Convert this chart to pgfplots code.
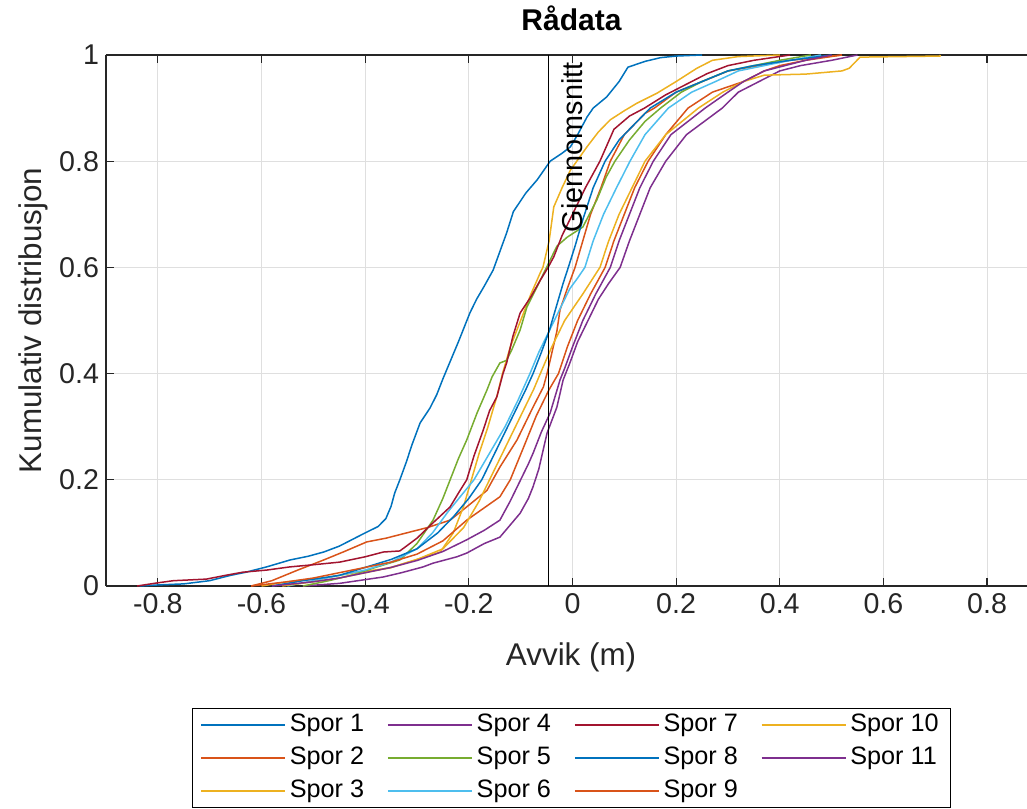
\documentclass[border=0pt]{standalone}
\usepackage{fontspec}
\setmainfont{Liberation Sans}
\usepackage{pgfplots}
\pgfplotsset{compat=1.18}
\definecolor{c1}{RGB}{0,114,189}
\definecolor{c2}{RGB}{217,83,25}
\definecolor{c3}{RGB}{237,177,32}
\definecolor{c4}{RGB}{126,47,142}
\definecolor{c5}{RGB}{119,172,48}
\definecolor{c6}{RGB}{77,190,238}
\definecolor{c7}{RGB}{162,20,47}
\definecolor{axc}{RGB}{38,38,38}
\definecolor{gridc}{RGB}{223,223,223}
\begin{document}
\begin{tikzpicture}
\path[use as bounding box] (-53pt,-111pt) rectangle (460.5pt,293pt);
\begin{axis}[
  at={(0,0)}, anchor=south west,
  scale only axis, width=460.5pt, height=265.5pt,
  xmin=-0.9, xmax=0.877, ymin=0, ymax=1,
  axis x line=box, axis y line=left,
  axis line style={-, color=axc, line width=0.6pt},
  tick align=inside, major tick length=4pt,
  tick style={color=axc, line width=0.6pt},
  xtick={-0.8,-0.6,-0.4,-0.2,0,0.2,0.4,0.6,0.8},
  ytick={0,0.2,0.4,0.6,0.8,1},
  grid=major, major grid style={color=gridc, line width=0.5pt},
  /pgf/number format/assume math mode=true,
  ticklabel style={font=\fontsize{14.3}{16}\selectfont, color=axc},
  xlabel={Avvik (m)},
  ylabel={Kumulativ distribusjon},
  title={Rådata},
  every axis x label/.style={at={(rel axis cs:0.505,-0.1337)}, anchor=center, font=\fontsize{15.7}{18}\selectfont, color=axc},
  every axis y label/.style={at={(rel axis cs:-0.0793,0.5)}, rotate=90, anchor=center, font=\fontsize{15.7}{18}\selectfont, color=axc},
  title style={at={(rel axis cs:0.5054,1.047)}, anchor=center, font=\fontsize{15}{18}\selectfont\bfseries},
  legend style={at={(rel axis cs:0.5054,-0.2298)}, anchor=north, draw=black, line width=0.5pt,
    font=\fontsize{12.6}{14}\selectfont, inner xsep=4pt, inner ysep=0pt,
    nodes={text height=9.5pt, text depth=2.8pt, inner ysep=2.1pt, inner xsep=2pt},
    /tikz/every even column/.append style={column sep=9.5pt}},
  legend cell align=left,
  legend columns=4,
  legend image code/.code={\draw[#1, line width=0.8pt] (0pt,0pt) -- (42pt,0pt);},
  every axis plot/.append style={line width=0.75pt, forget plot},
]
% Spor 1
\addplot[c1] coordinates {(-0.835,0) (-0.80,0.002) (-0.75,0.004) (-0.70,0.010) (-0.66,0.020) (-0.63,0.026) (-0.59,0.036) (-0.545,0.049) (-0.51,0.056) (-0.48,0.064) (-0.45,0.075) (-0.43,0.085) (-0.40,0.10) (-0.375,0.112) (-0.36,0.127) (-0.35,0.15) (-0.343,0.175) (-0.333,0.20) (-0.32,0.235) (-0.31,0.265) (-0.294,0.307) (-0.275,0.335) (-0.262,0.36) (-0.25,0.39) (-0.235,0.425) (-0.22,0.46) (-0.198,0.514) (-0.185,0.54) (-0.17,0.565) (-0.153,0.595) (-0.14,0.63) (-0.127,0.665) (-0.114,0.705) (-0.09,0.74) (-0.068,0.765) (-0.043,0.80) (-0.02,0.815) (-0.004,0.827) (0.01,0.85) (0.028,0.883) (0.04,0.90) (0.066,0.921) (0.09,0.95) (0.107,0.977) (0.14,0.988) (0.17,0.995) (0.20,0.998) (0.25,1.0)};
% Spor 2
\addplot[c2] coordinates {(-0.62,0) (-0.58,0.01) (-0.53,0.03) (-0.48,0.049) (-0.44,0.065) (-0.397,0.083) (-0.36,0.09) (-0.32,0.10) (-0.28,0.11) (-0.236,0.124) (-0.204,0.149) (-0.165,0.18) (-0.14,0.224) (-0.107,0.275) (-0.076,0.337) (-0.056,0.375) (-0.049,0.40) (-0.03,0.48) (-0.024,0.52) (-0.01,0.56) (0.005,0.60) (0.02,0.65) (0.035,0.70) (0.055,0.75) (0.073,0.80) (0.10,0.85) (0.14,0.89) (0.158,0.90) (0.20,0.93) (0.25,0.95) (0.30,0.97) (0.36,0.98) (0.42,0.99) (0.52,1.0)};
% Spor 3
\addplot[c3] coordinates {(-0.60,0) (-0.55,0.008) (-0.48,0.015) (-0.42,0.025) (-0.352,0.034) (-0.30,0.05) (-0.255,0.064) (-0.23,0.10) (-0.21,0.15) (-0.195,0.20) (-0.18,0.25) (-0.163,0.30) (-0.145,0.36) (-0.135,0.40) (-0.12,0.45) (-0.10,0.50) (-0.08,0.55) (-0.062,0.59) (-0.057,0.60) (-0.045,0.65) (-0.036,0.714) (-0.02,0.75) (-0.004,0.783) (0.028,0.827) (0.05,0.855) (0.073,0.878) (0.10,0.895) (0.124,0.909) (0.163,0.928) (0.20,0.95) (0.24,0.975) (0.27,0.99) (0.32,0.997) (0.40,1.0)};
% Spor 4
\addplot[c4] coordinates {(-0.52,0) (-0.449,0.005) (-0.40,0.012) (-0.365,0.017) (-0.33,0.025) (-0.288,0.036) (-0.269,0.043) (-0.223,0.055) (-0.204,0.062) (-0.17,0.08) (-0.14,0.092) (-0.12,0.115) (-0.101,0.137) (-0.085,0.165) (-0.076,0.187) (-0.065,0.22) (-0.049,0.288) (-0.03,0.337) (-0.018,0.388) (-0.005,0.42) (0.01,0.46) (0.03,0.50) (0.05,0.54) (0.07,0.57) (0.092,0.60) (0.11,0.65) (0.13,0.70) (0.15,0.75) (0.18,0.80) (0.22,0.85) (0.289,0.90) (0.32,0.93) (0.36,0.95) (0.40,0.97) (0.44,0.98) (0.50,0.99) (0.55,1.0)};
% Spor 5
\addplot[c5] coordinates {(-0.52,0) (-0.47,0.01) (-0.42,0.022) (-0.38,0.035) (-0.333,0.049) (-0.30,0.08) (-0.269,0.124) (-0.25,0.165) (-0.236,0.20) (-0.22,0.24) (-0.204,0.275) (-0.184,0.326) (-0.165,0.369) (-0.155,0.394) (-0.14,0.42) (-0.127,0.425) (-0.117,0.445) (-0.101,0.482) (-0.088,0.525) (-0.065,0.57) (-0.045,0.61) (-0.03,0.64) (-0.01,0.657) (0.02,0.676) (0.047,0.727) (0.065,0.77) (0.082,0.80) (0.11,0.84) (0.14,0.875) (0.17,0.90) (0.21,0.93) (0.25,0.95) (0.30,0.97) (0.35,0.98) (0.40,0.99) (0.46,1.0)};
% Spor 6
\addplot[c6] coordinates {(-0.55,0) (-0.50,0.01) (-0.45,0.02) (-0.40,0.03) (-0.35,0.045) (-0.30,0.07) (-0.27,0.10) (-0.24,0.14) (-0.19,0.20) (-0.16,0.25) (-0.13,0.30) (-0.105,0.35) (-0.082,0.40) (-0.065,0.44) (-0.045,0.48) (-0.025,0.52) (-0.005,0.56) (0.01,0.58) (0.024,0.60) (0.04,0.65) (0.06,0.70) (0.085,0.75) (0.111,0.80) (0.14,0.85) (0.185,0.90) (0.23,0.93) (0.276,0.95) (0.32,0.97) (0.37,0.98) (0.42,0.99) (0.48,1.0)};
% Spor 7
\addplot[c7] coordinates {(-0.84,0) (-0.80,0.006) (-0.77,0.010) (-0.706,0.013) (-0.67,0.02) (-0.636,0.026) (-0.59,0.03) (-0.545,0.036) (-0.50,0.04) (-0.449,0.045) (-0.40,0.055) (-0.365,0.064) (-0.333,0.066) (-0.30,0.09) (-0.269,0.119) (-0.236,0.149) (-0.22,0.175) (-0.204,0.20) (-0.19,0.245) (-0.172,0.294) (-0.16,0.33) (-0.146,0.356) (-0.134,0.40) (-0.127,0.42) (-0.115,0.47) (-0.101,0.514) (-0.08,0.545) (-0.062,0.576) (-0.047,0.60) (-0.036,0.62) (-0.02,0.66) (0.0,0.70) (0.025,0.75) (0.053,0.80) (0.08,0.86) (0.11,0.885) (0.139,0.90) (0.18,0.925) (0.22,0.945) (0.26,0.965) (0.30,0.98) (0.35,0.99) (0.42,1.0)};
% Spor 8
\addplot[c1] coordinates {(-0.58,0) (-0.52,0.01) (-0.45,0.02) (-0.40,0.035) (-0.35,0.05) (-0.30,0.07) (-0.26,0.10) (-0.23,0.13) (-0.20,0.165) (-0.175,0.20) (-0.155,0.24) (-0.13,0.29) (-0.11,0.33) (-0.09,0.37) (-0.076,0.40) (-0.06,0.44) (-0.045,0.48) (-0.03,0.53) (-0.018,0.57) (-0.008,0.60) (0.005,0.64) (0.02,0.69) (0.04,0.75) (0.063,0.80) (0.09,0.84) (0.12,0.87) (0.15,0.90) (0.20,0.93) (0.25,0.95) (0.30,0.97) (0.35,0.98) (0.42,0.99) (0.50,1.0)};
% Spor 9
\addplot[c2] coordinates {(-0.62,0) (-0.55,0.008) (-0.50,0.015) (-0.45,0.025) (-0.40,0.035) (-0.35,0.045) (-0.30,0.06) (-0.25,0.085) (-0.204,0.124) (-0.14,0.168) (-0.12,0.20) (-0.094,0.262) (-0.07,0.32) (-0.045,0.37) (-0.027,0.40) (-0.01,0.45) (0.01,0.50) (0.035,0.55) (0.063,0.60) (0.08,0.65) (0.10,0.70) (0.12,0.75) (0.146,0.80) (0.18,0.85) (0.223,0.90) (0.27,0.93) (0.33,0.95) (0.37,0.97) (0.40,0.98) (0.45,0.99) (0.52,1.0)};
% Spor 10
\addplot[c3] coordinates {(-0.56,0) (-0.50,0.008) (-0.45,0.015) (-0.40,0.025) (-0.35,0.035) (-0.30,0.05) (-0.25,0.07) (-0.21,0.11) (-0.18,0.16) (-0.16,0.20) (-0.13,0.26) (-0.10,0.32) (-0.075,0.37) (-0.062,0.40) (-0.04,0.45) (-0.015,0.50) (0.02,0.55) (0.053,0.60) (0.07,0.65) (0.09,0.70) (0.115,0.75) (0.14,0.80) (0.18,0.85) (0.243,0.90) (0.29,0.93) (0.33,0.95) (0.37,0.962) (0.45,0.964) (0.52,0.97) (0.534,0.975) (0.555,0.996) (0.709,0.998) (0.71,1.0)};
% Spor 11
\addplot[c4] coordinates {(-0.58,0) (-0.50,0.008) (-0.45,0.015) (-0.40,0.025) (-0.35,0.035) (-0.30,0.048) (-0.25,0.065) (-0.204,0.087) (-0.17,0.105) (-0.14,0.124) (-0.12,0.16) (-0.10,0.20) (-0.085,0.23) (-0.076,0.25) (-0.06,0.29) (-0.043,0.326) (-0.024,0.388) (-0.015,0.41) (0.0,0.45) (0.02,0.50) (0.045,0.55) (0.073,0.60) (0.09,0.65) (0.11,0.70) (0.13,0.75) (0.156,0.80) (0.19,0.85) (0.256,0.90) (0.30,0.93) (0.33,0.95) (0.37,0.97) (0.41,0.98) (0.45,0.99) (0.50,1.0)};
% mean line
\addplot[black, line width=0.7pt] coordinates {(-0.046,0) (-0.046,1)};
\node[rotate=90, anchor=north east, inner xsep=3.5pt, inner ysep=6.5pt, font=\fontsize{14.4}{16}\selectfont] at (axis cs:-0.046,1) {Gjennomsnitt};
% legend (column-wise order of the original)
\addlegendimage{c1}\addlegendentry{Spor 1}
\addlegendimage{c4}\addlegendentry{Spor 4}
\addlegendimage{c7}\addlegendentry{Spor 7}
\addlegendimage{c3}\addlegendentry{Spor 10}
\addlegendimage{c2}\addlegendentry{Spor 2}
\addlegendimage{c5}\addlegendentry{Spor 5}
\addlegendimage{c1}\addlegendentry{Spor 8}
\addlegendimage{c4}\addlegendentry{Spor 11}
\addlegendimage{c3}\addlegendentry{Spor 3}
\addlegendimage{c6}\addlegendentry{Spor 6}
\addlegendimage{c2}\addlegendentry{Spor 9}
\end{axis}
\end{tikzpicture}
\end{document}
